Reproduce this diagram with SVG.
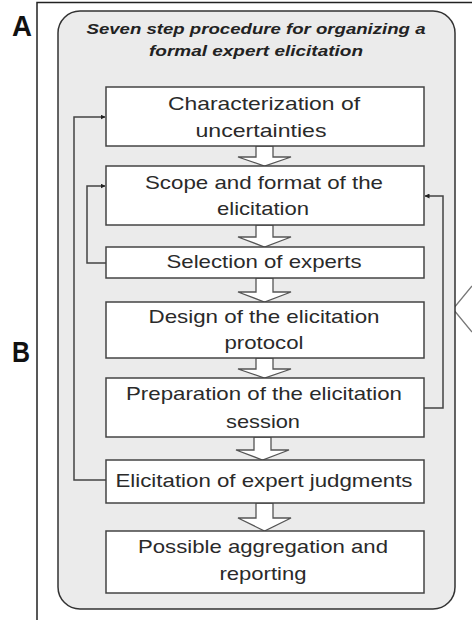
<svg xmlns="http://www.w3.org/2000/svg" width="472" height="620" viewBox="0 0 472 620">
<style>
.frame{fill:none;stroke:#222;stroke-width:1.5}
.panel{fill:#ebebeb;stroke:#333;stroke-width:1.5}
.box{fill:#fff;stroke:#444;stroke-width:1.5}
.t{font-family:"Liberation Sans",Arial,sans-serif;font-size:19px;fill:#2a2a2a;text-anchor:middle}
.title{font-family:"Liberation Sans",Arial,sans-serif;font-size:15px;font-weight:bold;font-style:italic;fill:#222;text-anchor:middle}
.lbl{font-family:"Liberation Sans",Arial,sans-serif;font-size:29px;font-weight:bold;fill:#111}
.blk{fill:#fff;stroke:#555;stroke-width:1.3;stroke-linejoin:miter}
.con{fill:none;stroke:#444;stroke-width:1.5}
</style>
<defs>
<marker id="ah" viewBox="0 0 10 10" refX="9" refY="5" markerWidth="5" markerHeight="5" markerUnits="userSpaceOnUse" orient="auto">
<path d="M0,0 L10,5 L0,10 z" fill="#222"/>
</marker>
</defs>
<rect width="472" height="620" fill="#fff"/>
<path class="frame" d="M37,620 V2.5 H472"/>
<text class="lbl" x="12" y="36" textLength="20" lengthAdjust="spacingAndGlyphs">A</text>
<text class="lbl" x="12" y="362" textLength="18" lengthAdjust="spacingAndGlyphs">B</text>
<polyline points="472,286 453,309 472,332" fill="none" stroke="#777" stroke-width="1.3"/>
<g id="panel">
<rect class="panel" x="58" y="11" width="397" height="598" rx="22" ry="22"/>
<text class="title" x="256" y="34" textLength="339" lengthAdjust="spacingAndGlyphs">Seven step procedure for organizing a</text>
<text class="title" x="256" y="56" textLength="214" lengthAdjust="spacingAndGlyphs">formal expert elicitation</text>
</g>
<g id="connectors">
<path class="blk" d="M256,146 V157 H238 L264.5,166 L291,157 H273 V146 z"/>
<path class="blk" d="M256,225 V237 H238 L264.5,247 L291,237 H273 V225 z"/>
<path class="blk" d="M256,278 V292 H238 L264.5,302 L291,292 H273 V278 z"/>
<path class="blk" d="M256,358 V369 H238 L264.5,378 L291,369 H273 V358 z"/>
<path class="blk" d="M254,437 V450 H236 L262.5,460 L289,450 H271 V437 z"/>
<path class="blk" d="M256,503 V518 H238 L264.5,531 L291,518 H273 V503 z"/>
<path class="con" d="M106,480 H74 V117 H105" marker-end="url(#ah)"/>
<path class="con" d="M106,263 H87 V186 H105" marker-end="url(#ah)"/>
<path class="con" d="M424,408 H443 V196 H425" marker-end="url(#ah)"/>
</g>
<g id="step1">
<rect class="box" x="106" y="87" width="318" height="59"/>
<text class="t" x="264" y="110" textLength="192" lengthAdjust="spacingAndGlyphs">Characterization  of</text>
<text class="t" x="261" y="137" textLength="131" lengthAdjust="spacingAndGlyphs">uncertainties</text>
</g>
<g id="step2">
<rect class="box" x="106" y="166" width="318" height="59"/>
<text class="t" x="264" y="189" textLength="238" lengthAdjust="spacingAndGlyphs">Scope and format of the</text>
<text class="t" x="263" y="215" textLength="92" lengthAdjust="spacingAndGlyphs">elicitation</text>
</g>
<g id="step3">
<rect class="box" x="106" y="247" width="318" height="31"/>
<text class="t" x="264" y="268" textLength="195" lengthAdjust="spacingAndGlyphs">Selection of experts</text>
</g>
<g id="step4">
<rect class="box" x="106" y="302" width="318" height="56"/>
<text class="t" x="264" y="323" textLength="231" lengthAdjust="spacingAndGlyphs">Design of the elicitation</text>
<text class="t" x="264" y="349" textLength="79" lengthAdjust="spacingAndGlyphs">protocol</text>
</g>
<g id="step5">
<rect class="box" x="106" y="378" width="318" height="59"/>
<text class="t" x="264" y="400" textLength="276" lengthAdjust="spacingAndGlyphs">Preparation of the elicitation</text>
<text class="t" x="263" y="428" textLength="74" lengthAdjust="spacingAndGlyphs">session</text>
</g>
<g id="step6">
<rect class="box" x="106" y="460" width="318" height="43"/>
<text class="t" x="264" y="487" textLength="297" lengthAdjust="spacingAndGlyphs">Elicitation of expert judgments</text>
</g>
<g id="step7">
<rect class="box" x="106" y="531" width="318" height="62"/>
<text class="t" x="263" y="553" textLength="250" lengthAdjust="spacingAndGlyphs">Possible aggregation and</text>
<text class="t" x="263" y="580" textLength="87" lengthAdjust="spacingAndGlyphs">reporting</text>
</g>
</svg>
